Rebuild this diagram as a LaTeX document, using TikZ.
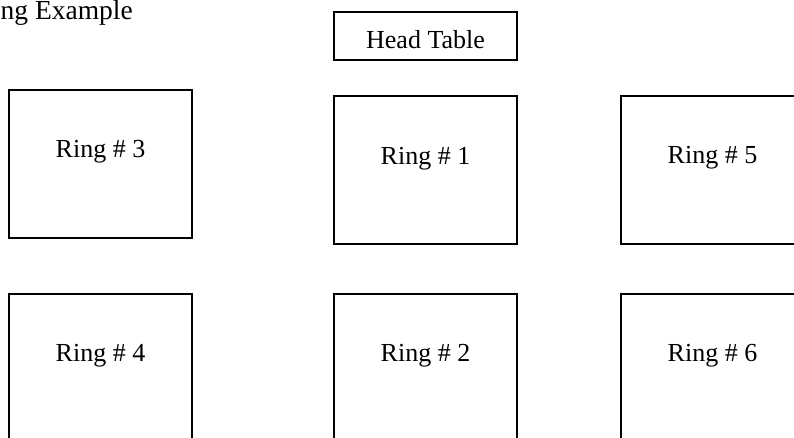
\documentclass[tikz,border=0pt]{standalone}
\usepackage{fontspec}
\setmainfont{Liberation Serif}
\usetikzlibrary{calc}
\tikzset{
  ringbox/.style={draw=black, line width=1.6pt, minimum width=183pt, minimum height=148pt, inner sep=0pt, outer sep=0pt, anchor=north west},
  headbox/.style={draw=black, line width=1.6pt, minimum width=183pt, minimum height=48pt, inner sep=0pt, outer sep=0pt, anchor=north west},
  lbl/.style={inner sep=0pt, anchor=base, font=\fontsize{26}{30}\selectfont}
}
\begin{document}
\begin{tikzpicture}[x=1pt, y=-1pt]
\useasboundingbox (0,0) rectangle (794,437);
\clip (0,0) rectangle (794,437);
\fill[white] (0,0) rectangle (794,437);
% title (cut at the left edge, as in the reference)
\node[lbl, anchor=base east, font=\fontsize{27.5}{31}\selectfont] (title) at (133,19.5) {ng Example};
% head table
\node[headbox] (head) at (334,12) {};
\node[lbl] (headtxt) at ($(head.north)+(0,36)$) {Head Table};
% rings
\node[ringbox] (r3) at (9,90) {};
\node[ringbox] (r1) at (334,96) {};
\node[ringbox] (r5) at (621,96) {};
\node[ringbox] (r4) at (9,294) {};
\node[ringbox] (r2) at (334,294) {};
\node[ringbox] (r6) at (621,294) {};
\node[lbl] (t3) at ($(r3.north)+(0,67)$) {Ring \# 3};
\node[lbl] (t1) at ($(r1.north)+(0,68)$) {Ring \# 1};
\node[lbl] (t5) at ($(r5.north)+(0,67)$) {Ring \# 5};
\node[lbl] (t4) at ($(r4.north)+(0,67)$) {Ring \# 4};
\node[lbl] (t2) at ($(r2.north)+(0,67)$) {Ring \# 2};
\node[lbl] (t6) at ($(r6.north)+(0,67)$) {Ring \# 6};
\end{tikzpicture}
\end{document}
